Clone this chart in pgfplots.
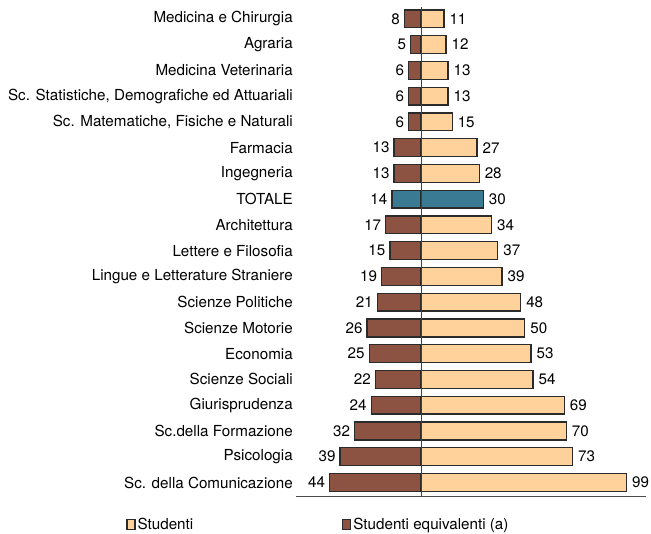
\documentclass[border=0pt]{standalone}
\usepackage{fontspec}
\setmainfont{TeX Gyre Heros}
\usepackage{pgfplots}
\usepackage{pgfplotstable}
\pgfplotsset{compat=1.18}
\definecolor{eqcol}{HTML}{8C5242}
\definecolor{stcol}{HTML}{FFD29B}
\definecolor{totcol}{HTML}{3A7A92}
\definecolor{edgecol}{HTML}{2B2B2B}
\pgfplotstableread{
y st eq
18 11 8
17 12 5
16 13 6
15 13 6
14 15 6
13 27 13
12 28 13
10 34 17
9 37 15
8 39 19
7 48 21
6 50 26
5 53 25
4 54 22
3 69 24
2 70 32
1 73 39
0 99 44
}\fac
\pgfplotstableread{
y st eq
11 30 14
}\tot
\begin{document}
\begin{tikzpicture}
\begin{axis}[
  x=2.09pt, y=25.94pt,
  xmin=-60.3, xmax=108.6, ymin=-0.54, ymax=18.46,
  axis x line*=bottom, axis y line*=left,
  x axis line style={-, draw=black!70, line width=0.9pt},
  y axis line style={draw=none},
  major tick length=0pt,
  xtick=\empty,
  ytick={0,...,18},
  yticklabels={Sc. della Comunicazione, Psicologia, Sc.della Formazione, Giurisprudenza, Scienze Sociali, Economia, Scienze Motorie, Scienze Politiche, Lingue e Letterature Straniere, Lettere e Filosofia, Architettura, TOTALE, Ingegneria, Farmacia, {Sc. Matematiche, Fisiche e Naturali}, {Sc. Statistiche, Demografiche ed Attuariali}, Medicina Veterinaria, Agraria, Medicina e Chirurgia},
  yticklabel style={font=\fontsize{15.3}{18}\selectfont, anchor=east, inner sep=0pt, xshift=-3pt},
  xbar, bar width=18pt, bar shift=0pt,
  clip=false,
  nodes near coords={\pgfplotspointmeta},
  point meta=explicit symbolic,
  legend columns=2,
  legend cell align=left,
  legend style={draw=none, fill=none, at={(-0.4843,-0.0568)}, anchor=west,
    font=\fontsize{15.3}{18}\selectfont, inner sep=0pt,
    /tikz/every even column/.append style={column sep=148pt}},
  legend image code/.code={\draw[#1] (0pt,-5pt) rectangle (8pt,5pt);},
  rightlab/.style={every node near coord/.style={font=\fontsize{15.3}{18}\selectfont, anchor=west, inner sep=0pt, xshift=5pt, color=black}},
  leftlab/.style={every node near coord/.style={font=\fontsize{15.3}{18}\selectfont, anchor=east, inner sep=0pt, xshift=-4pt, color=black}},
]
\addplot[fill=stcol, draw=edgecol, line width=1.3pt, rightlab] table[x=st, y=y, meta=st] {\fac};
\addlegendentry{Studenti}
\addplot[fill=eqcol, draw=edgecol, line width=1.3pt, leftlab] table[x expr=-\thisrow{eq}, y=y, meta=eq] {\fac};
\addlegendentry{Studenti equivalenti (a)}
\addplot[fill=totcol, draw=edgecol, line width=1.3pt, forget plot, rightlab] table[x=st, y=y, meta=st] {\tot};
\addplot[fill=totcol, draw=edgecol, line width=1.3pt, forget plot, leftlab] table[x expr=-\thisrow{eq}, y=y, meta=eq] {\tot};
\draw[black!75, line width=0.8pt] (axis cs:0,-0.54) -- (axis cs:0,18.46);
\coordinate (bbsw) at (axis cs:-202.9,-1.966);
\coordinate (bbne) at (axis cs:110.8,18.732);
\end{axis}
\pgfresetboundingbox
\useasboundingbox (bbsw) rectangle (bbne);
\end{tikzpicture}
\end{document}
